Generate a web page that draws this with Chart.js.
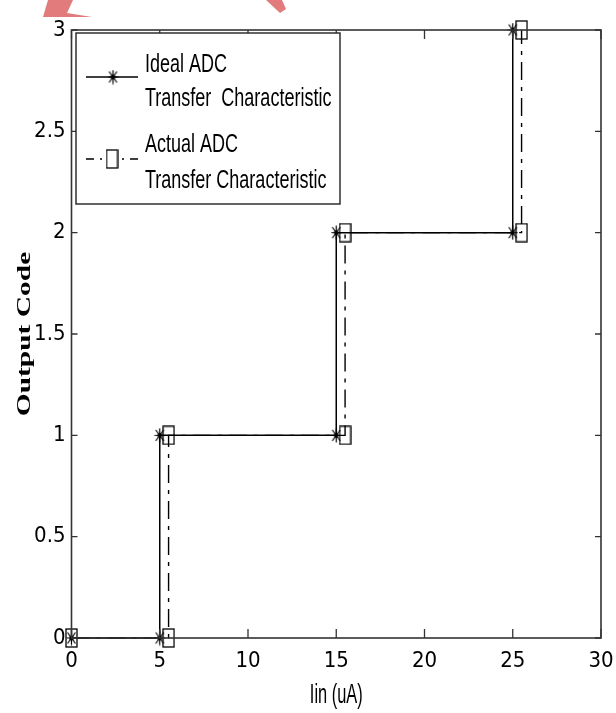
<!DOCTYPE html>
<html>
<head>
<meta charset="utf-8">
<script src="https://cdn.jsdelivr.net/npm/chart.js@4.4.1/dist/chart.umd.min.js"></script>
<style>
  html, body { margin: 0; padding: 0; background: #fff; }
  #wrap { width: 616px; height: 713px; position: relative; }
</style>
</head>
<body>
<div id="wrap"><canvas id="adc"></canvas></div>
<script>
// data
const idealX = [0, 5, 5, 15, 15, 25, 25];
const idealY = [0, 0, 1, 1, 2, 2, 3];
const actualX = [0, 5.5, 5.5, 15.5, 15.5, 25.5, 25.5];
const actualY = [0, 0, 1, 1, 2, 2, 3];
const xTicks = [0, 5, 10, 15, 20, 25, 30];
const yTicks = [0, 0.5, 1, 1.5, 2, 2.5, 3];
const seriesNames = [
  ["Ideal ADC", "Transfer  Characteristic"],
  ["Actual ADC", "Transfer Characteristic"]
];
const xTitle = "Iin (uA)";
const yTitle = "Output Code";

const SANS = "'Liberation Sans', Arial, sans-serif";
const TICKFONT = "'DejaVu Sans Condensed', 'Liberation Sans', sans-serif";

// marker images (the figure is stretched vertically, so markers are too)
function squareMarker() {
  const c = document.createElement("canvas");
  c.width = 13; c.height = 20;
  const g = c.getContext("2d");
  g.strokeStyle = "#000";
  g.lineWidth = 1.3;
  g.strokeRect(1, 1, 11, 18);
  return c;
}
function starMarker() {
  const c = document.createElement("canvas");
  c.width = 11; c.height = 15;
  const g = c.getContext("2d");
  g.strokeStyle = "#000";
  g.lineWidth = 1.2;
  g.beginPath();
  g.moveTo(5.5, 0.5); g.lineTo(5.5, 14.5);
  g.moveTo(0.5, 7.5); g.lineTo(10.5, 7.5);
  g.moveTo(1.5, 2); g.lineTo(9.5, 13);
  g.moveTo(9.5, 2); g.lineTo(1.5, 13);
  g.stroke();
  g.fillStyle = "#000";
  g.fillRect(3.5, 5.5, 4, 4);
  return c;
}
const sqImg = squareMarker();
const starImg = starMarker();

const toPts = (xs, ys) => xs.map((x, i) => ({ x: x, y: ys[i] }));

function stretchedText(ctx, text, x, y, sx, sy, rot) {
  ctx.save();
  ctx.translate(x, y);
  if (rot) ctx.rotate(rot);
  ctx.scale(sx, sy);
  ctx.fillText(text, 0, 0);
  ctx.restore();
}

// box, inward ticks, titles, legend and the red arrow fragments
const framePlugin = {
  id: "frame",
  afterDraw(chart) {
    const { ctx, chartArea: a, scales } = chart;
    ctx.save();
    ctx.strokeStyle = "#333";
    ctx.lineWidth = 1.6;
    ctx.strokeRect(a.left, a.top, a.right - a.left, a.bottom - a.top);
    ctx.lineWidth = 1.3;
    ctx.beginPath();
    xTicks.forEach(v => {
      const px = scales.x.getPixelForValue(v);
      ctx.moveTo(px, a.bottom); ctx.lineTo(px, a.bottom - 9);
      ctx.moveTo(px, a.top); ctx.lineTo(px, a.top + 9);
    });
    yTicks.forEach(v => {
      const py = scales.y.getPixelForValue(v);
      ctx.moveTo(a.left, py); ctx.lineTo(a.left + 6, py);
      ctx.moveTo(a.right, py); ctx.lineTo(a.right - 6, py);
    });
    ctx.stroke();

    // axis titles
    ctx.fillStyle = "#000";
    ctx.textAlign = "center";
    ctx.textBaseline = "alphabetic";
    ctx.font = "20px " + SANS;
    stretchedText(ctx, xTitle, (a.left + a.right) / 2, 703, 0.82, 1.35, 0);
    ctx.font = "bold 19px 'Liberation Serif', 'DejaVu Serif', serif";
    stretchedText(ctx, yTitle, 30, (a.top + a.bottom) / 2, 1.55, 1.0, -Math.PI / 2);

    // legend
    const lx = 76, ly = 33, lw = 264, lh = 171;
    ctx.fillStyle = "#fff";
    ctx.fillRect(lx, ly, lw, lh);
    ctx.strokeStyle = "#222";
    ctx.lineWidth = 1.4;
    ctx.strokeRect(lx, ly, lw, lh);

    ctx.strokeStyle = "#000";
    ctx.lineWidth = 1.5;
    ctx.beginPath();
    ctx.moveTo(86, 77); ctx.lineTo(138, 77);
    ctx.stroke();
    ctx.drawImage(starImg, 113 - 5.5, 77 - 7.5);

    ctx.setLineDash([8, 6, 2, 6]);
    ctx.beginPath();
    ctx.moveTo(86, 159); ctx.lineTo(139, 159);
    ctx.stroke();
    ctx.setLineDash([]);
    ctx.fillStyle = "#fff";
    ctx.fillRect(107, 150, 11, 18);
    ctx.drawImage(sqImg, 112 - 6.5, 159 - 10);

    ctx.fillStyle = "#000";
    ctx.font = "20px " + SANS;
    ctx.textAlign = "left";
    const bases = [[72, 106], [152, 188]];
    seriesNames.forEach((lines, i) => {
      lines.forEach((t, j) => stretchedText(ctx, t, 145, bases[i][j], 0.9, 1.33, 0));
    });

    // red arrow fragments at the top edge of the figure
    ctx.fillStyle = "#e27b7b";
    ctx.beginPath();
    ctx.moveTo(48, 0); ctx.lineTo(73, 0); ctx.lineTo(67, 13);
    ctx.lineTo(92, 17); ctx.lineTo(43, 17); ctx.closePath();
    ctx.fill();
    ctx.beginPath();
    ctx.moveTo(266, 0); ctx.lineTo(282, 0); ctx.lineTo(286, 9);
    ctx.lineTo(280, 13); ctx.closePath();
    ctx.fill();
    ctx.restore();
  }
};

new Chart(document.getElementById("adc"), {
  type: "scatter",
  data: {
    datasets: [
      {
        label: seriesNames[0].join(" "),
        data: toPts(idealX, idealY),
        showLine: true,
        borderColor: "#000",
        borderWidth: 1.5,
        pointStyle: starImg,
        pointRadius: 5,
        order: 2
      },
      {
        label: seriesNames[1].join(" "),
        data: toPts(actualX, actualY),
        showLine: true,
        borderColor: "#000",
        borderWidth: 1.4,
        borderDash: [18, 7, 4, 7],
        pointStyle: sqImg,
        pointRadius: 7,
        order: 1
      }
    ]
  },
  options: {
    responsive: true,
    maintainAspectRatio: false,
    animation: false,
    clip: false,
    layout: { padding: { top: 30, right: 15, left: 0, bottom: 0 } },
    plugins: { legend: { display: false }, tooltip: { enabled: false } },
    scales: {
      x: {
        type: "linear",
        min: 0, max: 30,
        afterBuildTicks: s => { s.ticks = xTicks.map(v => ({ value: v })); },
        afterFit: s => { s.height = 75; s.paddingLeft = 0; s.paddingRight = 0; },
        grid: { display: false, drawTicks: false },
        border: { display: false },
        ticks: {
          color: "#000", padding: 10,
          font: { family: TICKFONT, size: 22 },
          callback: v => String(v)
        }
      },
      y: {
        type: "linear",
        min: 0, max: 3,
        afterBuildTicks: s => { s.ticks = yTicks.map(v => ({ value: v })); },
        afterFit: s => { s.width = 71.5; s.paddingTop = 0; s.paddingBottom = 0; },
        grid: { display: false, drawTicks: false },
        border: { display: false },
        ticks: {
          color: "#000", padding: 6,
          font: { family: TICKFONT, size: 22 },
          callback: v => String(v)
        }
      }
    }
  },
  plugins: [framePlugin]
});
</script>
</body>
</html>
